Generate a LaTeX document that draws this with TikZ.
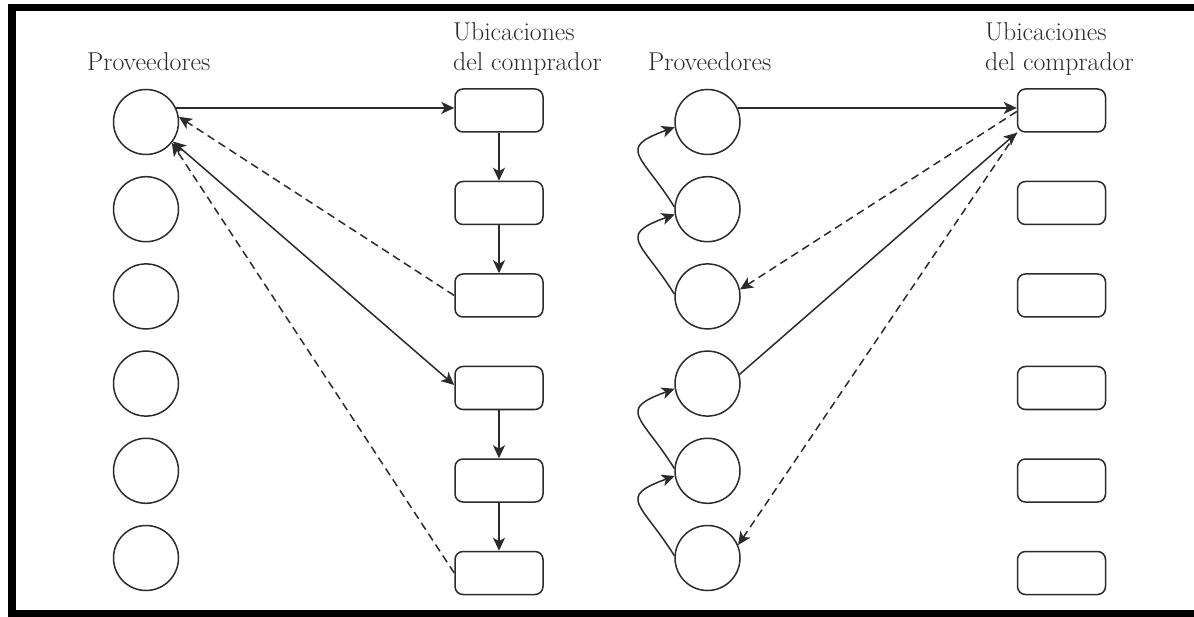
\documentclass[tikz,border=0pt]{standalone}
\usepackage{fontspec}
\usetikzlibrary{arrows.meta}
\definecolor{ink}{HTML}{2B2B2B}
\begin{document}
\begin{tikzpicture}[x=1pt,y=1pt,
  prov/.style={circle,draw=ink,line width=1.5pt,minimum size=65pt,inner sep=0pt},
  ubic/.style={rectangle,draw=ink,line width=1.5pt,rounded corners=8pt,minimum width=88pt,minimum height=43pt,inner sep=0pt},
  lab/.style={font=\fontsize{25.8}{30}\selectfont,text=ink,inner sep=0pt,anchor=base west},
  tip/.style={-{Stealth[length=13pt,width=12pt,inset=3.5pt]}},
  flow/.style={draw=ink,line width=1.5pt,tip},
  dflow/.style={flow,dash pattern=on 8pt off 5pt},
  bflow/.style={draw=ink,line width=1.5pt,{Stealth[length=13pt,width=12pt,inset=3.5pt]}-{Stealth[length=13pt,width=12pt,inset=3.5pt]}}
]
\useasboundingbox (0,0) rectangle (1194,-617);
% frame
\fill[black] (8,-4) rectangle (16,-617);
\fill[black] (8,-4) rectangle (1194,-11);
\fill[black] (8,-610) rectangle (1194,-617);

% labels
\node[lab] (t1) at (87,-71) {Proveedores};
\node[lab] (t2) at (453,-41) {Ubicaciones};
\node[lab] (t3) at (453,-71) {del comprador};
\node[lab] (t4) at (648,-71) {Proveedores};
\node[lab] (t5) at (985,-41) {Ubicaciones};
\node[lab] (t6) at (985,-71) {del comprador};

% left suppliers
\node[prov] (L1) at (146,-122) {};
\node[prov] (L2) at (146,-209.2) {};
\node[prov] (L3) at (146,-296.4) {};
\node[prov] (L4) at (146,-383.6) {};
\node[prov] (L5) at (146,-470.8) {};
\node[prov] (L6) at (146,-558) {};
% left buyer locations
\node[ubic] (A1) at (499,-110.5) {};
\node[ubic] (A2) at (499,-203) {};
\node[ubic] (A3) at (499,-295.5) {};
\node[ubic] (A4) at (499,-388) {};
\node[ubic] (A5) at (499,-480.5) {};
\node[ubic] (A6) at (499,-573) {};
% right suppliers
\node[prov] (R1) at (707.5,-122) {};
\node[prov] (R2) at (707.5,-209.2) {};
\node[prov] (R3) at (707.5,-296.4) {};
\node[prov] (R4) at (707.5,-383.6) {};
\node[prov] (R5) at (707.5,-470.8) {};
\node[prov] (R6) at (707.5,-558) {};
% right buyer locations
\node[ubic] (B1) at (1061.5,-110.5) {};
\node[ubic] (B2) at (1061.5,-203) {};
\node[ubic] (B3) at (1061.5,-295.5) {};
\node[ubic] (B4) at (1061.5,-388) {};
\node[ubic] (B5) at (1061.5,-480.5) {};
\node[ubic] (B6) at (1061.5,-573) {};

% left connectors
\draw[flow] (L1.25) -- (L1.25 -| A1.west);
\draw[flow] (A1.south) -- (A2.north);
\draw[flow] (A2.south) -- (A3.north);
\draw[flow] (A4.south) -- (A5.north);
\draw[flow] (A5.south) -- (A6.north);
\draw[dflow] (A3.west) -- (L1.9);
\draw[bflow] (L1.-36) -- ([yshift=3pt]A4.west);
\draw[dflow] (A6.west) -- (L1.-39);

% right connectors
\draw[flow] (R1.25) -- (R1.25 -| B1.west);
\draw[dflow] ([yshift=-1pt]B1.west) -- (R3.12);
\draw[flow] (R4.16) -- (B1.south west);
\draw[dflow] (B1.south west) -- (R6.23);
\draw[flow] (R2.176) to[out=122,in=200,looseness=2] (R1.189);
\draw[flow] (R3.176) to[out=122,in=200,looseness=2] (R2.189);
\draw[flow] (R5.176) to[out=122,in=200,looseness=2] (R4.189);
\draw[flow] (R6.176) to[out=122,in=200,looseness=2] (R5.189);
\end{tikzpicture}
\end{document}
